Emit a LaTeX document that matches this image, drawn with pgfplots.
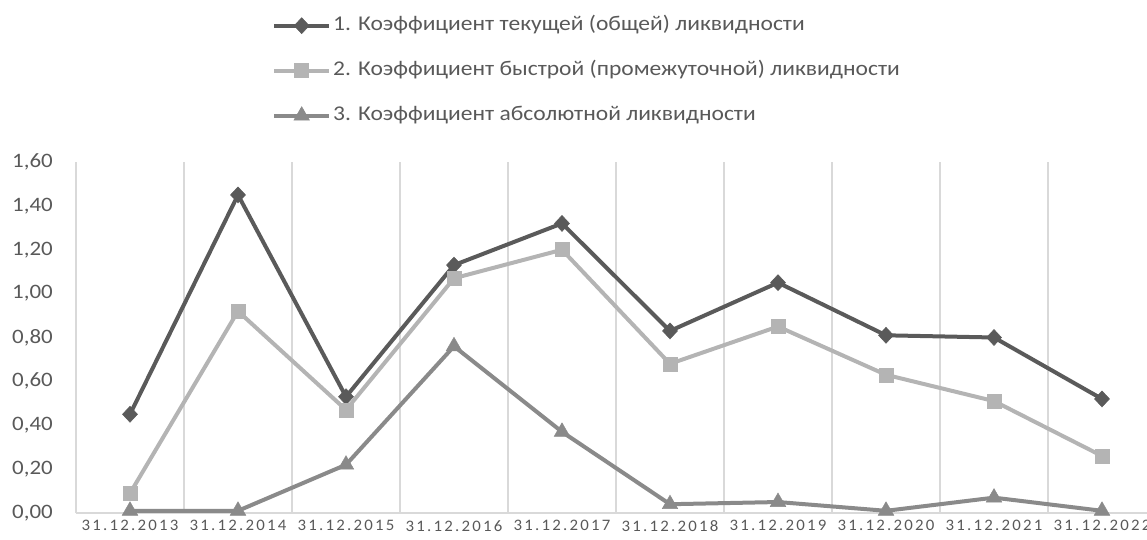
\documentclass[border=0pt]{standalone}
\usepackage{fontspec}
\setmainfont{Carlito}[FakeStretch=1.12]
\newfontfamily\lsfont{Carlito}[LetterSpace=14, FakeStretch=1.05]
\usepackage{pgfplots}
\pgfplotsset{compat=1.18}
\definecolor{sdark}{HTML}{5A5A5A}
\definecolor{slight}{HTML}{B4B4B4}
\definecolor{smid}{HTML}{8A8A8A}
\definecolor{gridgray}{HTML}{D9D9D9}
\definecolor{textgray}{HTML}{595959}
\begin{document}
\begin{tikzpicture}
\useasboundingbox (0,0) rectangle (1147bp,540bp);
\begin{axis}[
  at={(76bp,27bp)}, anchor=south west,
  scale only axis, width=1080bp, height=351bp,
  xmin=0.5, xmax=10.5, ymin=0, ymax=1.6,
  clip=false,
  axis line style={draw=none},
  major tick length=0pt, minor tick length=0pt,
  xtick={1,2,3,4,5,6,7,8,9,10},
  xticklabels={31.12.2013,31.12.2014,31.12.2015,31.12.2016,31.12.2017,31.12.2018,31.12.2019,31.12.2020,31.12.2021,31.12.2022},
  minor xtick={0.5,1.5,2.5,3.5,4.5,5.5,6.5,7.5,8.5,9.5,10.5},
  xminorgrids,
  minor grid style={gridgray, line width=1.5bp},
  ytick={0,0.2,0.4,0.6,0.8,1.0,1.2,1.4,1.6},
  extra y ticks={0}, extra y tick labels={},
  extra y tick style={grid=major, major grid style={gridgray, line width=1.5bp}},
  y tick label style={/pgf/number format/.cd, fixed, fixed zerofill, precision=2, use comma, assume math mode=true, /tikz/.cd,
    font=\fontsize{20.5bp}{24bp}\selectfont, text=textgray, inner sep=0pt, anchor=east, xshift=-23bp},
  x tick label style={font=\lsfont\fontsize{16bp}{19bp}\selectfont, text=textgray, inner sep=0pt, anchor=north, yshift=-7bp},
  legend cell align=left,
  legend image code/.code={\draw[#1, mark repeat=2, mark phase=2] plot coordinates {(0bp,0bp) (27.5bp,0bp) (55bp,0bp)};},
  legend style={draw=none, fill=none, at={(0.18148,1.416)}, anchor=north west, inner sep=0pt, row sep=26bp, column sep=2bp,
    nodes={inner sep=0pt, text height=14bp, text depth=5bp},
    font=\fontsize{21bp}{25bp}\selectfont, text=textgray},
]
\addplot[sdark, line width=4bp, mark=diamond*, mark size=8bp,
  mark options={solid, fill=sdark, draw=sdark, line width=0.5bp, xscale=1.25}]
  coordinates {(1,0.45) (2,1.45) (3,0.53) (4,1.13) (5,1.32) (6,0.83) (7,1.05) (8,0.81) (9,0.80) (10,0.52)};
\addlegendentry{1. Коэффициент текущей (общей) ликвидности}
\addplot[slight, line width=4bp, mark=square*, mark size=7bp,
  mark options={solid, fill=slight, draw=slight, line width=0.5bp}]
  coordinates {(1,0.09) (2,0.92) (3,0.47) (4,1.07) (5,1.20) (6,0.68) (7,0.85) (8,0.63) (9,0.51) (10,0.26)};
\addlegendentry{2. Коэффициент быстрой (промежуточной) ликвидности}
\addplot[smid, line width=4bp, mark=triangle*, mark size=9bp,
  mark options={solid, fill=smid, draw=smid, line width=0.5bp}]
  coordinates {(1,0.01) (2,0.01) (3,0.22) (4,0.76) (5,0.37) (6,0.04) (7,0.05) (8,0.01) (9,0.07) (10,0.01)};
\addlegendentry{3. Коэффициент абсолютной ликвидности}
\end{axis}
\end{tikzpicture}
\end{document}
